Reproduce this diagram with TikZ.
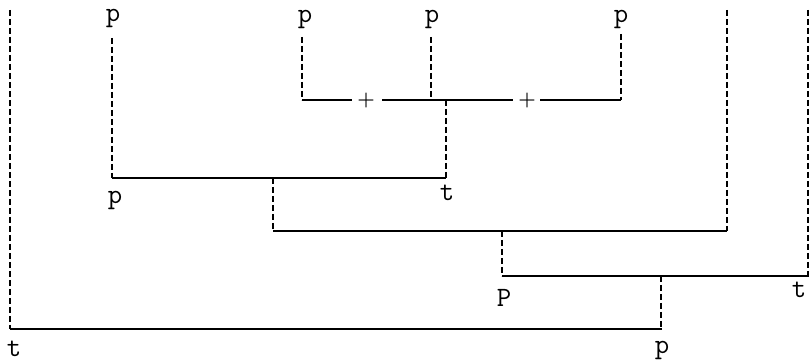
\documentclass[tikz,border=0pt]{standalone}
\usepackage{fontspec}
\begin{document}
\begin{tikzpicture}[x=1pt,y=-1pt,
  solidline/.style={line width=1.8pt},
  dashline/.style={line width=1.8pt,dash pattern=on 6pt off 3pt},
  lab/.style={font=\ttfamily\fontsize{28}{28}\selectfont,inner sep=0pt,anchor=center},
  plus/.style={font=\bfseries\fontsize{20}{20}\selectfont,inner sep=0pt}]
\useasboundingbox (0,0) rectangle (809,363);
% joints
\coordinate (A1) at (10,10);   \coordinate (A2) at (10,329);
\coordinate (B0) at (662,329);
\coordinate (C1) at (112,38);  \coordinate (C2) at (112,178);
\coordinate (C3) at (446,178);
\coordinate (D1) at (302,37);  \coordinate (D2) at (302,100);
\coordinate (E1) at (431,37);  \coordinate (E2) at (431,100);
\coordinate (F1) at (621,34);  \coordinate (F2) at (621,100);
\coordinate (S1) at (352,100); \coordinate (S2) at (382,100);
\coordinate (S3) at (513,100); \coordinate (S4) at (540,100);
\coordinate (G1) at (446,100);
\coordinate (H1) at (273,178); \coordinate (H2) at (273,231);
\coordinate (H3) at (727,231); \coordinate (H4) at (727,10);
\coordinate (K1) at (502,231); \coordinate (K2) at (502,276);
\coordinate (K3) at (809,276); \coordinate (K4) at (808,10);
\coordinate (K5) at (808,276);
\coordinate (M1) at (661,276); \coordinate (M2) at (661,329);
% labels
\node[lab] (lt1) at (14,349) {t};
\node[lab] (lp1) at (662,350) {p};
\node[lab] (lp2) at (113,18) {p};
\node[lab] (lp3) at (115,200) {p};
\node[lab] (lt2) at (447,193) {t};
\node[lab] (lp4) at (305,19) {p};
\node[lab] (lp5) at (432,19) {p};
\node[lab] (lp6) at (621,19) {p};
\node[lab] (lp7) at (504,298) {P};
\node[lab] (lt3) at (799,290) {t};
\node[plus] (pl1) at (366,101) {+};
\node[plus] (pl2) at (527,101) {+};
% lines
\draw[dashline] (A1) -- (A2);
\draw[solidline] (A2) -- (B0);
\draw[dashline] (C1) -- (C2);
\draw[solidline] (C2) -- (C3);
\draw[dashline] (D1) -- (D2);
\draw[dashline] (E1) -- (E2);
\draw[dashline] (F1) -- (F2);
\draw[solidline] (D2) -- (S1);
\draw[solidline] (S2) -- (S3);
\draw[solidline] (S4) -- (F2);
\draw[dashline] (G1) -- (C3);
\draw[dashline] (H1) -- (H2);
\draw[solidline] (H2) -- (H3);
\draw[dashline] (H4) -- (H3);
\draw[dashline] (K1) -- (K2);
\draw[solidline] (K2) -- (K3);
\draw[dashline] (K4) -- (K5);
\draw[dashline] (M1) -- (M2);
\end{tikzpicture}
\end{document}
